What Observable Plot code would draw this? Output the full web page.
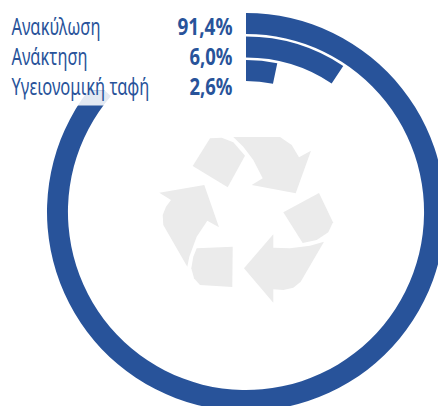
<!DOCTYPE html>
<html lang="el">
<head>
<meta charset="utf-8">
<script src="https://cdn.jsdelivr.net/npm/d3@7"></script>
<script src="https://cdn.jsdelivr.net/npm/@observablehq/plot@0.6"></script>
<style>
html,body{margin:0;padding:0;background:#fff;overflow:hidden}
svg{display:block}
</style>
</head>
<body>
<div id="chart"></div>
<script>
const categories = ["Ανακύλωση", "Ανάκτηση", "Υγειονομική ταφή"];
const valueLabels = ["91,4%", "6,0%", "2,6%"];
// Arc lengths as drawn in the picture, in percent of a full turn
const arcShares = [86.3, 9.35, 3.3];

const BLUE = "#28539a";
const FONT = "'Noto Sans','Open Sans',sans-serif";
const CX = 246, CY = 212;
const baselines = [34, 64, 94];
const nameWidths = [89, 76, 138];
const valueWidths = [55, 43, 43];

const icon = [
  "M210,138.3L221.7,137.7L233.3,142.3L245,155.7L227.7,187.3L192.7,166Z",
  "M233.3,137L280,137L291.7,145L299,157.3L311,150.7L295.7,193.3L251.7,185L262.7,178.3L253.3,160L243.3,146.7Z",
  "M283.3,212.3L319,193L333,222.3L328.3,232.3L316.7,240L302.7,243Z",
  "M273.3,234.3L273.3,247.7L290,248.3L310,245.7L324,241.7L300.7,281.7L293.3,287.7L283.3,290L273.3,289.3L273.3,302.7L244,268.3Z",
  "M196.7,248.3L232.7,246.7L232.3,287L200,285L194,278.3L191.3,268.3L193.3,256.7Z",
  "M159.3,192.7L204.3,185L219,227.3L207.3,220.7L196.7,236.7L189.3,256.7L187.3,266.7L163.3,225L162.7,215L166,206.7L171,200Z"
];

const rows = categories.map((name, i) => ({name, share: arcShares[i]}));

// Remember the condensed width of the original typeface for each text
const fitTo = length => (index, scales, values, dims, context, next) => {
  const g = next(index, scales, values, dims, context);
  g.querySelectorAll("text").forEach(t => t.setAttribute("data-fit", length));
  return g;
};

const chart = Plot.plot({
  width: 438,
  height: 406,
  margin: 0,
  style: {background: "#fff", fontFamily: FONT, overflow: "hidden"},
  x: {axis: null, domain: [0, 100], range: [0, 2 * Math.PI]},
  y: {axis: null, type: "band", domain: categories, range: [199, 131], paddingInner: 0.11, paddingOuter: 0, round: false},
  marks: [
    () => {
      const g = d3.create("svg:g").attr("fill", "#ebebeb");
      icon.forEach(d => g.append("path").attr("d", d));
      return g.node();
    },
    Plot.barX(rows, {
      x1: () => 0,
      x2: "share",
      y: "name",
      fill: BLUE,
      render(index, scales, values) {
        const bw = scales.y.bandwidth();
        const arc = d3.arc();
        const g = d3.create("svg:g").attr("transform", `translate(${CX},${CY})`).attr("fill", BLUE);
        for (const i of index) {
          const r0 = values.y[i];
          g.append("path").attr("d", arc({
            innerRadius: r0,
            outerRadius: r0 + bw,
            startAngle: values.x1[i],
            endAngle: values.x2[i]
          }));
        }
        return g.node();
      }
    }),
    Plot.frame({fill: "#fff", stroke: null, insetRight: 438 - 243, insetBottom: 406 - 90}),
    Plot.frame({fill: "#fff", fillOpacity: 0.87, stroke: null, insetTop: 90, insetRight: 438 - 243, insetBottom: 406 - 105}),
    ...categories.map((name, i) => Plot.text([name], {
      text: d => d,
      frameAnchor: "top-left",
      lineAnchor: "bottom",
      textAnchor: "start",
      dx: 11,
      dy: baselines[i],
      fill: BLUE,
      fontSize: 23,
      fontFamily: FONT,
      render: fitTo(nameWidths[i])
    })),
    ...valueLabels.map((label, i) => Plot.text([label], {
      text: d => d,
      frameAnchor: "top-left",
      lineAnchor: "bottom",
      textAnchor: "end",
      dx: 232,
      dy: baselines[i],
      fill: BLUE,
      fontSize: 23.5,
      fontWeight: 700,
      fontFamily: FONT,
      render: fitTo(valueWidths[i])
    }))
  ]
});
document.getElementById("chart").append(chart);
chart.querySelectorAll("text[data-fit]").forEach(t => {
  const sx = +t.getAttribute("data-fit") / t.getComputedTextLength();
  t.setAttribute("transform", `${t.getAttribute("transform") || ""} scale(${sx},1)`);
});
</script>
</body>
</html>
